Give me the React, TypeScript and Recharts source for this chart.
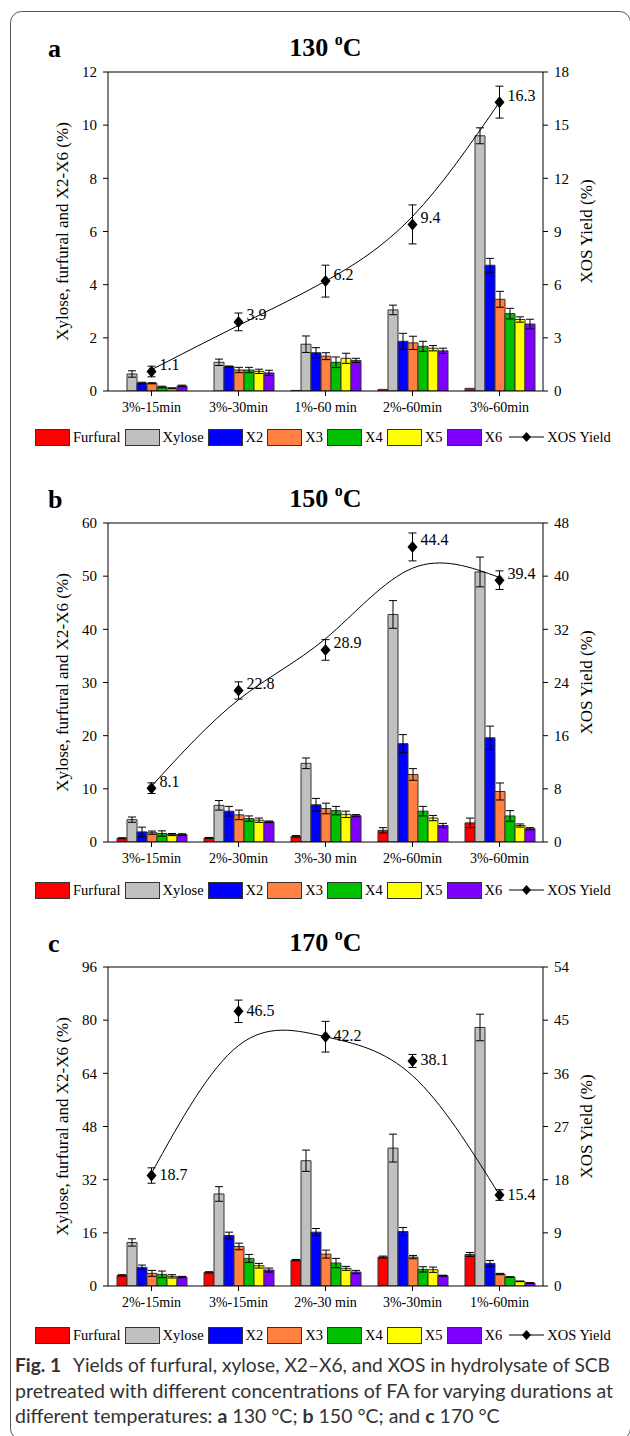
import React from 'react';
import { ComposedChart, Bar, Line, XAxis, YAxis, ErrorBar, LabelList, ReferenceLine } from 'recharts';

const SERIF = '"Liberation Serif", "Times New Roman", Times, serif';
const SANS = 'Lato, "Open Sans", "Noto Sans", sans-serif';

// ---------- Panel a : 130 °C ----------
const categoriesA = ['3%-15min', '3%-30min', '1%-60 min', '2%-60min', '3%-60min'];
const furfuralA = [0, 0, 0.02, 0.06, 0.1];
const furfuralErrA = [null, null, null, null, null];
const xyloseA = [0.64, 1.08, 1.76, 3.05, 9.6];
const xyloseErrA = [0.12, 0.12, 0.31, 0.18, 0.3];
const x2A = [0.3, 0.92, 1.44, 1.87, 4.73];
const x2ErrA = [0.03, 0.02, 0.19, 0.3, 0.26];
const x3A = [0.29, 0.79, 1.31, 1.81, 3.45];
const x3ErrA = [0.02, 0.1, 0.13, 0.25, 0.3];
const x4A = [0.15, 0.79, 1.08, 1.68, 2.91];
const x4ErrA = [0.03, 0.1, 0.2, 0.19, 0.2];
const x5A = [0.1, 0.74, 1.23, 1.61, 2.69];
const x5ErrA = [0.02, 0.08, 0.19, 0.1, 0.1];
const x6A = [0.19, 0.68, 1.15, 1.51, 2.52];
const x6ErrA = [0.03, 0.1, 0.08, 0.1, 0.18];
const xosA = [1.1, 3.9, 6.2, 9.4, 16.3];
const xosErrA = [0.3, 0.5, 0.9, 1.1, 0.9];
const xosFitA = [1.2, 3.7, 6.2, 9.85, 16.3];
const leftTicksA = [0, 2, 4, 6, 8, 10, 12];
const rightTicksA = [0, 3, 6, 9, 12, 15, 18];

// ---------- Panel b : 150 °C ----------
const categoriesB = ['3%-15min', '2%-30min', '3%-30 min', '2%-60min', '3%-60min'];
const furfuralB = [0.7, 0.75, 1.06, 2.2, 3.6];
const furfuralErrB = [0.1, 0.1, 0.15, 0.5, 0.9];
const xyloseB = [4.2, 6.9, 14.8, 42.8, 50.8];
const xyloseErrB = [0.5, 0.9, 1.0, 2.6, 2.8];
const x2B = [1.9, 5.8, 7.0, 18.5, 19.6];
const x2ErrB = [0.9, 0.9, 1.2, 1.7, 2.2];
const x3B = [1.75, 5.1, 6.3, 12.7, 9.5];
const x3ErrB = [0.3, 0.9, 1.0, 1.1, 1.6];
const x4B = [1.6, 4.4, 5.9, 5.8, 4.9];
const x4ErrB = [0.5, 0.5, 0.8, 0.9, 1.0];
const x5B = [1.4, 4.1, 5.2, 4.5, 3.1];
const x5ErrB = [0.2, 0.4, 0.6, 0.5, 0.3];
const x6B = [1.4, 3.8, 4.95, 3.1, 2.5];
const x6ErrB = [0.15, 0.15, 0.2, 0.4, 0.2];
const xosB = [8.1, 22.8, 28.9, 44.4, 39.4];
const xosErrB = [0.8, 1.3, 1.55, 2.1, 1.4];
const xosFitB = [8.4, 21.4, 30.6, 41.2, 39.8];
const leftTicksB = [0, 10, 20, 30, 40, 50, 60];
const rightTicksB = [0, 8, 16, 24, 32, 40, 48];

// ---------- Panel c : 170 °C ----------
const categoriesC = ['2%-15min', '3%-15min', '2%-30 min', '3%-30min', '1%-60min'];
const furfuralC = [3.2, 4.1, 7.8, 8.7, 9.5];
const furfuralErrC = [0.2, 0.2, 0.2, 0.3, 0.6];
const xyloseC = [13.1, 27.7, 37.7, 41.5, 77.8];
const xyloseErrC = [1.1, 2.2, 3.2, 4.2, 4.0];
const x2C = [5.6, 15.2, 16.2, 16.4, 6.8];
const x2ErrC = [0.7, 1.0, 1.1, 1.2, 0.9];
const x3C = [3.8, 11.9, 9.6, 8.7, 3.6];
const x3ErrC = [0.9, 1.0, 1.2, 0.5, 0.2];
const x4C = [3.5, 8.3, 6.9, 5.0, 2.7];
const x4ErrC = [1.0, 1.2, 1.4, 0.8, 0.1];
const x5C = [2.9, 6.1, 5.3, 4.9, 1.4];
const x5ErrC = [0.5, 0.7, 0.6, 0.8, 0.1];
const x6C = [2.7, 4.8, 4.2, 3.1, 0.9];
const x6ErrC = [0.2, 0.6, 0.5, 0.15, 0.1];
const xosC = [18.7, 46.5, 42.2, 38.1, 15.4];
const xosErrC = [1.3, 1.9, 2.6, 1.1, 0.9];
const xosFitC = [19.1, 40.7, 42.2, 35.6, 15.4];
const leftTicksC = [0, 16, 32, 48, 64, 80, 96];
const rightTicksC = [0, 9, 18, 27, 36, 45, 54];

// ---------- series names & styles ----------
const seriesKeys = ['furfural', 'xylose', 'x2', 'x3', 'x4', 'x5', 'x6'];
const seriesNames = ['Furfural', 'Xylose', 'X2', 'X3', 'X4', 'X5', 'X6'];
const seriesColors = ['#FF0000', '#C0C0C0', '#0000FF', '#FF8040', '#00C000', '#FFFF00', '#8000FF'];

type Num = number | null;
function buildRows(cats: string[], vals: number[][], errs: Num[][], xos: number[], xosErr: number[], fit: number[]) {
  return cats.map((c, i) => {
    const row: any = { cat: c, xos: xos[i], xosErr: xosErr[i], fit: fit[i] };
    seriesKeys.forEach((k, s) => {
      row[k] = vals[s][i];
      row[k + 'Err'] = errs[s][i];
    });
    return row;
  });
}

const rowsA = buildRows(
  categoriesA,
  [furfuralA, xyloseA, x2A, x3A, x4A, x5A, x6A],
  [furfuralErrA, xyloseErrA, x2ErrA, x3ErrA, x4ErrA, x5ErrA, x6ErrA],
  xosA, xosErrA, xosFitA
);
const rowsB = buildRows(
  categoriesB,
  [furfuralB, xyloseB, x2B, x3B, x4B, x5B, x6B],
  [furfuralErrB, xyloseErrB, x2ErrB, x3ErrB, x4ErrB, x5ErrB, x6ErrB],
  xosB, xosErrB, xosFitB
);
const rowsC = buildRows(
  categoriesC,
  [furfuralC, xyloseC, x2C, x3C, x4C, x5C, x6C],
  [furfuralErrC, xyloseErrC, x2ErrC, x3ErrC, x4ErrC, x5ErrC, x6ErrC],
  xosC, xosErrC, xosFitC
);

const PLOT_H = 319;
const M_TOP = 12;
const X_H = 30;
const LEFT_W = 108;
const RIGHT_W = 87;
const CHART_W = 630;

const Diamond = (props: any) => {
  const { cx, cy, index } = props;
  if (cx == null || cy == null) return <g key={`dm${index}`} />;
  return (
    <path
      key={`dm${index}`}
      d={`M${cx},${cy - 6}L${cx + 5},${cy}L${cx},${cy + 6}L${cx - 5},${cy}Z`}
      fill="#000"
    />
  );
};

const makeValueLabel = (dy: number) => (props: any) => {
  const { x, y, value, index } = props;
  if (x == null || y == null) return null;
  return (
    <text
      key={`vl${index}`}
      x={Number(x) + 8}
      y={Number(y) + dy}
      fontSize={16}
      fontFamily={SERIF}
      fill="#000"
      dominantBaseline="central"
    >
      {value}
    </text>
  );
};

function Panel(props: {
  rows: any[];
  plotTop: number;
  leftTicks: number[];
  rightTicks: number[];
  labelDy: number;
}) {
  const { rows, plotTop, leftTicks, rightTicks, labelDy } = props;
  const leftMax = leftTicks[leftTicks.length - 1];
  const rightMax = rightTicks[rightTicks.length - 1];
  const height = M_TOP + PLOT_H + X_H;
  const tickStyleY = { fill: '#000', fontSize: 15, fontFamily: SERIF };
  const tickStyleX = { fill: '#000', fontSize: 14, fontFamily: SERIF };
  return (
    <div style={{ position: 'absolute', left: 0, top: plotTop - M_TOP }}>
      <ComposedChart
        width={CHART_W}
        height={height}
        data={rows}
        margin={{ top: M_TOP, right: 0, bottom: 0, left: 0 }}
        barGap={0}
        barSize={10}
      >
        <XAxis
          dataKey="cat"
          height={X_H}
          interval={0}
          tickSize={5}
          tickMargin={6}
          tick={tickStyleX}
          axisLine={{ stroke: '#000', strokeWidth: 1 }}
          tickLine={{ stroke: '#000', strokeWidth: 1 }}
        />
        <YAxis
          yAxisId="left"
          orientation="left"
          width={LEFT_W}
          domain={[0, leftMax]}
          ticks={leftTicks}
          interval={0}
          allowDataOverflow
          tickSize={5}
          tickMargin={6}
          tick={tickStyleY}
          axisLine={{ stroke: '#000', strokeWidth: 1 }}
          tickLine={{ stroke: '#000', strokeWidth: 1 }}
        />
        <YAxis
          yAxisId="right"
          orientation="right"
          width={RIGHT_W}
          domain={[0, rightMax]}
          ticks={rightTicks}
          interval={0}
          allowDataOverflow
          tickSize={5}
          tickMargin={6}
          tick={tickStyleY}
          axisLine={{ stroke: '#000', strokeWidth: 1 }}
          tickLine={{ stroke: '#000', strokeWidth: 1 }}
        />
        <ReferenceLine y={leftMax} yAxisId="left" stroke="#000" strokeWidth={1} />
        {seriesKeys.map((k, s) => (
          <Bar
            key={k}
            dataKey={k}
            yAxisId="left"
            fill={seriesColors[s]}
            stroke="#333"
            strokeWidth={1}
            isAnimationActive={false}
          >
            <ErrorBar dataKey={k + 'Err'} width={4} stroke="#000" strokeWidth={1} direction="y" />
          </Bar>
        ))}
        <Line
          dataKey="fit"
          yAxisId="right"
          type="natural"
          stroke="#000"
          strokeWidth={1}
          dot={false}
          activeDot={false}
          isAnimationActive={false}
        />
        <Line
          dataKey="xos"
          yAxisId="right"
          stroke="none"
          dot={Diamond}
          activeDot={false}
          isAnimationActive={false}
        >
          <ErrorBar dataKey="xosErr" width={4} stroke="#000" strokeWidth={1} direction="y" />
          <LabelList dataKey="xos" content={makeValueLabel(labelDy)} />
        </Line>
      </ComposedChart>
    </div>
  );
}

function LegendRow({ centerY }: { centerY: number }) {
  return (
    <div
      style={{
        position: 'absolute',
        left: 35,
        top: centerY - 9,
        height: 18,
        display: 'flex',
        alignItems: 'center',
        fontFamily: SERIF,
        fontSize: 14.5,
        color: '#000',
        whiteSpace: 'nowrap',
      }}
    >
      {seriesNames.map((n, s) => (
        <React.Fragment key={n}>
          <span
            style={{
              display: 'inline-block',
              width: 33,
              height: 15,
              background: seriesColors[s],
              border: '1px solid #333',
            }}
          />
          <span style={{ marginLeft: 3, marginRight: 4 }}>{n}</span>
        </React.Fragment>
      ))}
      <svg width={35} height={12} style={{ marginLeft: 3 }}>
        <line x1={0} y1={6} x2={35} y2={6} stroke="#000" strokeWidth={1} />
        <path d="M17.5,1L22,6L17.5,11L13,6Z" fill="#000" />
      </svg>
      <span style={{ marginLeft: 3 }}>XOS Yield</span>
    </div>
  );
}

const panelLetters = ['a', 'b', 'c'];
const panelTemps = ['130', '150', '170'];
const panelTops = [72, 523, 967];
const legendCenters = [437, 890, 1335];

export default function App() {
  return (
    <div style={{ position: 'absolute', left: 0, top: 0, width: 630, height: 1436, background: '#fff', overflow: 'hidden' }}>
      <Panel rows={rowsA} plotTop={panelTops[0]} leftTicks={leftTicksA} rightTicks={rightTicksA} labelDy={-7} />
      <Panel rows={rowsB} plotTop={panelTops[1]} leftTicks={leftTicksB} rightTicks={rightTicksB} labelDy={-7} />
      <Panel rows={rowsC} plotTop={panelTops[2]} leftTicks={leftTicksC} rightTicks={rightTicksC} labelDy={-1} />
      {legendCenters.map((c) => (
        <LegendRow key={c} centerY={c} />
      ))}
      <svg
        width={630}
        height={1436}
        style={{ position: 'absolute', left: 0, top: 0, pointerEvents: 'none' }}
      >
        <rect x={10.5} y={11.5} width={620} height={1428} rx={11} ry={11} fill="none" stroke="#555" strokeWidth={1} />
        {panelTops.map((t, i) => {
          const mid = t + PLOT_H / 2;
          return (
            <g key={i}>
              <text x={48} y={t - 15} fontFamily={SERIF} fontWeight="bold" fontSize={26} fill="#000">
                {panelLetters[i]}
              </text>
              <text x={325.5} y={t - 16} textAnchor="middle" fontFamily={SERIF} fontWeight="bold" fontSize={26} fill="#000">
                {panelTemps[i] + ' '}
                <tspan fontSize={16} dy={-11}>o</tspan>
                <tspan dy={11}>C</tspan>
              </text>
              <text
                x={68}
                y={mid}
                transform={`rotate(-90 68 ${mid})`}
                textAnchor="middle"
                fontFamily={SERIF}
                fontSize={17}
                fill="#000"
              >
                Xylose, furfural and X2-X6 (%)
              </text>
              <text
                x={592}
                y={mid}
                transform={`rotate(-90 592 ${mid})`}
                textAnchor="middle"
                fontFamily={SERIF}
                fontSize={17}
                fill="#000"
              >
                XOS Yield (%)
              </text>
            </g>
          );
        })}
        <g fontFamily={SANS} fontSize={19.5} fill="#333">
          <text x={15} y={1372} textLength={595} lengthAdjust="spacingAndGlyphs">
            <tspan fontWeight="bold">Fig. 1</tspan>
            <tspan dx={12}>Yields of furfural, xylose, X2–X6, and XOS in hydrolysate of SCB</tspan>
          </text>
          <text x={15} y={1397.5} textLength={598} lengthAdjust="spacingAndGlyphs">
            pretreated with different concentrations of FA for varying durations at
          </text>
          <text x={15} y={1423}>
            {'different temperatures: '}
            <tspan fontWeight="bold">a</tspan>
            {' 130 °C; '}
            <tspan fontWeight="bold">b</tspan>
            {' 150 °C; and '}
            <tspan fontWeight="bold">c</tspan>
            {' 170 °C'}
          </text>
        </g>
      </svg>
    </div>
  );
}
